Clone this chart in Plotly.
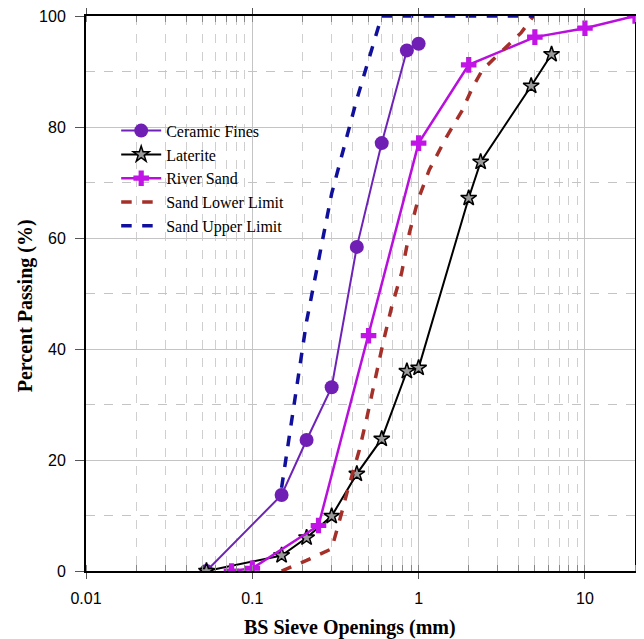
import plotly.graph_objects as go

# Ceramic Fines
cer_x = [0.053, 0.15, 0.212, 0.3, 0.425, 0.6, 0.85, 1.0]
cer_y = [0, 13.7, 23.6, 33.1, 58.4, 77.1, 93.8, 95.0]

# Laterite
lat_x = [0.053, 0.15, 0.212, 0.3, 0.425, 0.6, 0.85, 1.0, 2.0, 2.36, 4.75, 6.3]
lat_y = [0, 2.8, 6.0, 9.9, 17.5, 23.8, 36.0, 36.6, 67.2, 73.7, 87.4, 93.1]

# River Sand
riv_x = [0.075, 0.1, 0.25, 0.5, 1.0, 2.0, 5.0, 10.0, 20.0]
riv_y = [0, 0.5, 8.2, 42.4, 77.1, 91.2, 96.2, 97.8, 100]

# Sand Lower Limit
low_x = [0.15, 0.212, 0.3, 0.32, 0.344, 0.37, 0.4, 0.44, 0.49, 0.54, 0.61, 0.69,
         0.79, 0.88, 0.99, 1.16, 1.47, 1.83, 2.1, 2.42, 4.14, 4.9]
low_y = [0, 1.9, 4.0, 7.3, 10.4, 14.0, 17.6, 21.8, 27.8, 33.9, 41.0, 47.7,
         53.7, 60.9, 66.8, 72.3, 78.2, 83.0, 87.0, 90.3, 97.0, 100]

# Sand Upper Limit
up_x = [0.15, 0.212, 0.3, 0.425, 0.6, 5.0]
up_y = [15, 45, 68, 85, 100, 100]

y_tickvals = [0, 20, 40, 60, 80, 100]

SERIF = "Liberation Serif, Times New Roman, serif"
SANS = "Liberation Sans, Arial, sans-serif"

fig = go.Figure()
fig.add_trace(go.Scatter(x=cer_x, y=cer_y, mode="lines+markers", name="Ceramic Fines",
                         line=dict(color="#6f22b8", width=2),
                         marker=dict(symbol="circle", size=14, color="#6f1fb3")))
fig.add_trace(go.Scatter(x=lat_x, y=lat_y, mode="lines+markers", name="Laterite",
                         line=dict(color="black", width=2),
                         marker=dict(symbol="star", size=12, color="#9a9a9a",
                                     line=dict(color="black", width=1.5))))
fig.add_trace(go.Scatter(x=riv_x, y=riv_y, mode="lines+markers", name="River Sand",
                         line=dict(color="#b80fdc", width=2.5),
                         marker=dict(symbol="cross", size=13, color="#c214e6")))
fig.add_trace(go.Scatter(x=low_x, y=low_y, mode="lines", name="Sand Lower Limit",
                         line=dict(color="#a5302a", width=3.5, dash="dash")))
fig.add_trace(go.Scatter(x=up_x, y=up_y, mode="lines", name="Sand Upper Limit",
                         line=dict(color="#10109c", width=3.5, dash="dash")))

fig.update_layout(
    width=636, height=631,
    margin=dict(l=78, r=9, t=8, b=68, autoexpand=False),
    paper_bgcolor="white", plot_bgcolor="white",
    font=dict(family=SANS, size=16, color="black"),
    showlegend=True,
    legend=dict(x=0.055, y=0.824, xanchor="left", yanchor="top",
                bgcolor="rgba(255,255,255,0)", borderwidth=0,
                font=dict(family=SERIF, size=16, color="black"),
                tracegroupgap=2, itemwidth=40),
    annotations=[
        dict(text="<b>BS Sieve Openings (mm)</b>", xref="paper", yref="paper",
             x=0.481, y=-0.101, xanchor="center", yanchor="middle", showarrow=False,
             font=dict(family=SERIF, size=20, color="black")),
        dict(text="<b>Percent Passing (%)</b>", xref="paper", yref="paper",
             x=-0.111, y=0.477, xanchor="center", yanchor="middle", showarrow=False,
             textangle=-90, font=dict(family=SERIF, size=20, color="black")),
    ],
)
fig.update_xaxes(
    type="log", range=[-2, 1.30103],
    tickmode="linear", tick0=0, dtick=1, tickformat="~g",
    showgrid=True, gridcolor="#c4c4c4", gridwidth=1,
    showline=True, linecolor="black", linewidth=2, mirror="ticks",
    ticks="outside", ticklen=6, tickcolor="#555555", ticklabelstandoff=6,
    ticklabeloverflow="allow",
    minor=dict(dtick="D1", showgrid=True, gridcolor="#cfcfcf", griddash="dash",
               ticks="inside", ticklen=6, tickcolor="#888888"),
    zeroline=False, automargin=False,
    tickfont=dict(family=SANS, size=16),
)
fig.update_yaxes(
    range=[0, 100], tickvals=y_tickvals,
    showgrid=True, gridcolor="#c4c4c4", gridwidth=1,
    showline=True, linecolor="black", linewidth=2, mirror="ticks",
    ticks="outside", ticklen=9, tickcolor="#555555", ticklabelstandoff=6,
    ticklabeloverflow="allow",
    minor=dict(dtick=10, showgrid=True, gridcolor="#c4c4c4", griddash="dash"),
    zeroline=False, automargin=False,
    tickfont=dict(family=SANS, size=16),
)

fig.write_html("out.html")
